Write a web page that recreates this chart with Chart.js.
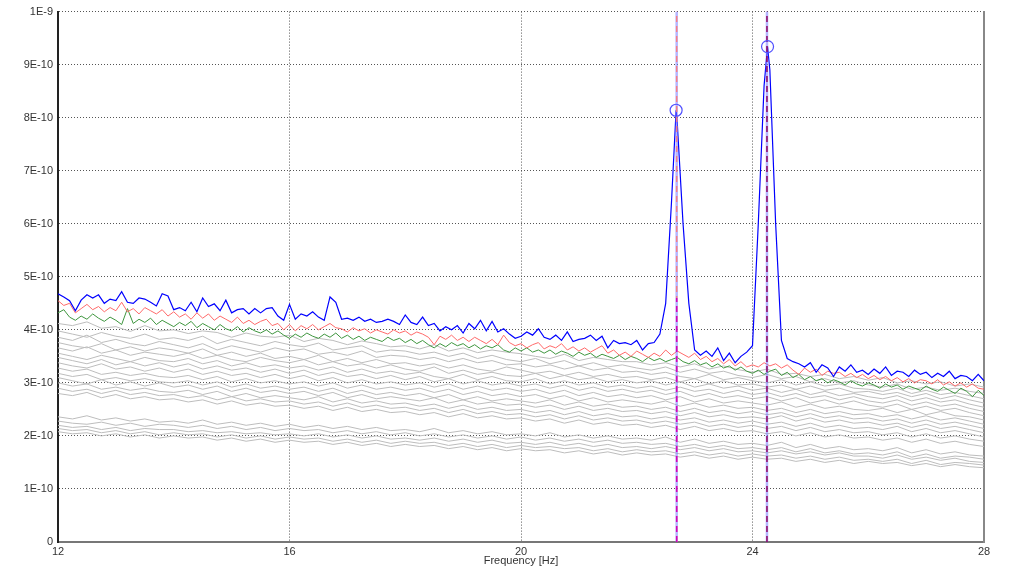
<!DOCTYPE html>
<html>
<head>
<meta charset="utf-8">
<script src="https://cdn.jsdelivr.net/npm/chart.js@4/dist/chart.umd.min.js"></script>
<style>
  html, body { margin: 0; padding: 0; background: #fff; }
  #wrap { width: 1024px; height: 568px; }
</style>
</head>
<body>
<div id="wrap"><canvas id="spectrum"></canvas></div>
<script>
'use strict';

// values are in units of 1E-10
var freqStart = 12;
var lineStep = 0.1;   // blue / red / green spectra
var grayStep = 0.25;  // background spectra

var xTickValues = [12, 16, 20, 24, 28];
var yTickValues = [0, 1, 2, 3, 4, 5, 6, 7, 8, 9, 10];
var yTickLabels = ['0', '1E-10', '2E-10', '3E-10', '4E-10', '5E-10', '6E-10', '7E-10', '8E-10', '9E-10', '1E-9'];

var peakFreqs = [22.68, 24.26];
var peakValues = [8.14, 9.34];
var markerFreqs = [22.69, 24.25];

var blueValues = [
  4.68, 4.62, 4.55, 4.36, 4.56, 4.66, 4.60, 4.66, 4.50, 4.58,
  4.55, 4.72, 4.52, 4.50, 4.60, 4.58, 4.52, 4.45, 4.68, 4.64,
  4.38, 4.42, 4.36, 4.52, 4.34, 4.60, 4.44, 4.49, 4.36, 4.56,
  4.32, 4.38, 4.40, 4.30, 4.40, 4.32, 4.40, 4.42, 4.26, 4.18,
  4.48, 4.20, 4.30, 4.26, 4.34, 4.24, 4.18, 4.62, 4.52, 4.20,
  4.22, 4.18, 4.24, 4.16, 4.20, 4.14, 4.16, 4.20, 4.16, 4.10,
  4.28, 4.14, 4.10, 4.24, 4.08, 4.12, 3.98, 4.06, 4.00, 4.08,
  3.94, 4.12, 4.02, 4.18, 3.98, 4.16, 3.96, 4.02, 3.92, 3.84,
  3.88, 3.96, 3.90, 4.02, 3.86, 3.82, 3.90, 3.80, 3.96, 3.78,
  3.82, 3.84, 3.90, 3.80, 3.88, 3.66, 3.80, 3.74, 3.76, 3.72,
  3.80, 3.62, 3.74, 3.76, 3.92, 4.50, 6.40, 7.90, 6.00, 4.50,
  3.62, 3.52, 3.60, 3.50, 3.66, 3.42, 3.56, 3.38, 3.50, 3.58,
  3.70, 6.00, 8.60, 8.90, 6.00, 3.80, 3.46, 3.40, 3.36, 3.30,
  3.38, 3.20, 3.34, 3.28, 3.12, 3.30, 3.22, 3.34, 3.20, 3.24,
  3.16, 3.26, 3.18, 3.30, 3.14, 3.22, 3.20, 3.12, 3.24, 3.16,
  3.20, 3.10, 3.18, 3.12, 3.22, 3.08, 3.14, 3.12, 3.04, 3.16,
  3.04
];

var redValues = [
  4.55, 4.46, 4.50, 4.32, 4.40, 4.48, 4.38, 4.44, 4.34, 4.42,
  4.36, 4.52, 4.34, 4.40, 4.30, 4.42, 4.36, 4.30, 4.38, 4.26,
  4.34, 4.24, 4.30, 4.20, 4.32, 4.22, 4.30, 4.18, 4.26, 4.20,
  4.14, 4.24, 4.12, 4.18, 4.10, 4.16, 4.20, 4.08, 4.12, 4.00,
  4.10, 3.98, 4.08, 4.02, 4.10, 4.00, 4.06, 4.12, 4.04, 4.02,
  3.96, 4.04, 3.98, 4.02, 3.94, 4.00, 3.96, 3.92, 4.00, 3.94,
  3.98, 3.90, 3.96, 3.92, 3.86, 3.72, 3.88, 3.82, 3.90, 3.80,
  3.86, 3.78, 3.86, 3.80, 3.74, 3.82, 3.72, 3.90, 3.76, 3.70,
  3.74, 3.66, 3.72, 3.76, 3.64, 3.70, 3.66, 3.74, 3.62, 3.68,
  3.60, 3.66, 3.58, 3.64, 3.70, 3.56, 3.62, 3.52, 3.58, 3.50,
  3.60, 3.54, 3.48, 3.56, 3.50, 3.62, 3.52, 3.60, 3.54, 3.48,
  3.56, 3.44, 3.50, 3.40, 3.46, 3.36, 3.44, 3.32, 3.40, 3.30,
  3.34, 3.30, 3.38, 3.32, 3.36, 3.28, 3.34, 3.24, 3.16, 3.28,
  3.20, 3.26, 3.14, 3.22, 3.18, 3.20, 3.12, 3.18, 3.10, 3.16,
  3.08, 3.14, 3.06, 3.12, 3.04, 3.10, 3.02, 3.08, 3.00, 3.06,
  3.04, 2.98, 3.06, 2.96, 3.02, 2.94, 3.00, 2.92, 2.98, 2.90,
  2.88
];

var greenValues = [
  4.32, 4.38, 4.24, 4.18, 4.26, 4.20, 4.30, 4.22, 4.16, 4.24,
  4.18, 4.10, 4.40, 4.12, 4.20, 4.14, 4.22, 4.10, 4.18, 4.12,
  4.06, 4.14, 4.08, 4.16, 4.04, 4.12, 4.06, 4.00, 4.10, 4.02,
  3.98, 4.06, 3.96, 4.04, 3.98, 3.94, 4.00, 3.92, 3.98, 3.90,
  3.84, 3.92, 3.86, 3.94, 3.88, 3.84, 3.92, 3.86, 3.94, 3.84,
  3.90, 3.82, 3.88, 3.80, 3.86, 3.82, 3.78, 3.86, 3.80, 3.84,
  3.76, 3.82, 3.74, 3.80, 3.72, 3.66, 3.74, 3.68, 3.76, 3.70,
  3.74, 3.66, 3.72, 3.64, 3.70, 3.66, 3.72, 3.62, 3.58, 3.66,
  3.60, 3.66, 3.58, 3.62, 3.56, 3.62, 3.54, 3.60, 3.56, 3.50,
  3.58, 3.52, 3.56, 3.48, 3.54, 3.50, 3.46, 3.52, 3.44, 3.50,
  3.46, 3.40, 3.48, 3.42, 3.46, 3.40, 3.44, 3.48, 3.40, 3.36,
  3.42, 3.34, 3.38, 3.30, 3.36, 3.28, 3.32, 3.24, 3.30, 3.22,
  3.18, 3.24, 3.16, 3.22, 3.26, 3.14, 3.20, 3.10, 3.16, 3.06,
  3.12, 3.04, 3.08, 3.00, 3.06, 3.02, 2.96, 3.04, 2.98, 2.94,
  3.00, 2.96, 2.90, 2.98, 2.92, 2.96, 2.88, 2.94, 2.90, 2.86,
  2.94, 2.88, 2.84, 2.92, 2.86, 2.80, 2.90, 2.84, 2.74, 2.86,
  2.76
];

// background spectra, one row per 2 Hz (0.25 Hz apart)
var grayValues = [
  [4.12, 4.08, 4.15, 4.03, 4.06, 3.97, 4.08, 3.98,  4.00, 3.93, 3.98, 3.95, 3.86, 3.94, 3.88, 3.86,
   3.90, 3.78, 3.84, 3.80, 3.72, 3.79, 3.74, 3.68,  3.70, 3.64, 3.72, 3.60, 3.66, 3.57, 3.62, 3.58,
   3.55, 3.50, 3.46, 3.54, 3.42, 3.48, 3.44, 3.40,  3.40, 3.34, 3.38, 3.30, 3.36, 3.26, 3.32, 3.25,
   3.20, 3.26, 3.16, 3.18, 3.12, 3.16, 3.08, 3.12,  3.05, 3.10, 3.00, 3.04, 2.98, 3.02, 2.94, 2.98, 2.92],
  [3.98, 3.92, 3.86, 3.95, 3.88, 3.84, 3.92, 3.82,  3.85, 3.80, 3.88, 3.74, 3.82, 3.76, 3.70, 3.78,
   3.72, 3.68, 3.75, 3.62, 3.66, 3.70, 3.58, 3.62,  3.60, 3.54, 3.58, 3.50, 3.56, 3.46, 3.52, 3.44,
   3.40, 3.46, 3.36, 3.42, 3.32, 3.38, 3.30, 3.34,  3.28, 3.24, 3.30, 3.20, 3.26, 3.18, 3.22, 3.14,
   3.10, 3.16, 3.08, 3.12, 3.02, 3.08, 3.00, 3.04,  2.96, 2.92, 2.98, 2.88, 2.92, 2.86, 2.90, 2.84, 2.80],
  [3.86, 3.80, 3.90, 3.76, 3.82, 3.74, 3.70, 3.78,  3.72, 3.66, 3.74, 3.62, 3.70, 3.64, 3.58, 3.66,
   3.60, 3.64, 3.54, 3.58, 3.52, 3.60, 3.48, 3.52,  3.50, 3.44, 3.48, 3.40, 3.46, 3.38, 3.42, 3.34,
   3.36, 3.30, 3.34, 3.26, 3.32, 3.24, 3.28, 3.20,  3.22, 3.16, 3.20, 3.12, 3.08, 3.16, 3.06, 3.10,
   3.04, 3.00, 3.06, 2.96, 3.02, 2.94, 2.98, 2.90,  2.88, 2.84, 2.90, 2.80, 2.86, 2.78, 2.82, 2.76, 2.70],
  [3.76, 3.70, 3.66, 3.74, 3.62, 3.68, 3.60, 3.66,  3.62, 3.56, 3.64, 3.52, 3.58, 3.50, 3.56, 3.46,
   3.50, 3.44, 3.52, 3.40, 3.46, 3.38, 3.44, 3.36,  3.38, 3.32, 3.36, 3.28, 3.34, 3.26, 3.22, 3.30,
   3.24, 3.18, 3.22, 3.14, 3.20, 3.12, 3.16, 3.10,  3.12, 3.06, 3.10, 3.02, 3.08, 2.98, 3.04, 2.96,
   2.98, 2.92, 2.96, 2.88, 2.94, 2.86, 2.90, 2.82,  2.84, 2.78, 2.82, 2.74, 2.80, 2.70, 2.76, 2.68, 2.62],
  [3.66, 3.60, 3.68, 3.56, 3.62, 3.52, 3.58, 3.54,  3.50, 3.56, 3.46, 3.52, 3.44, 3.40, 3.48, 3.42,
   3.38, 3.44, 3.34, 3.40, 3.32, 3.36, 3.28, 3.34,  3.26, 3.22, 3.30, 3.18, 3.24, 3.16, 3.20, 3.14,
   3.12, 3.18, 3.08, 3.14, 3.06, 3.10, 3.02, 3.06,  3.00, 3.04, 2.96, 3.02, 2.92, 2.98, 2.90, 2.94,
   2.86, 2.90, 2.82, 2.88, 2.78, 2.84, 2.76, 2.80,  2.74, 2.70, 2.76, 2.66, 2.72, 2.64, 2.68, 2.60, 2.54],
  [3.56, 3.50, 3.44, 3.52, 3.46, 3.40, 3.48, 3.42,  3.40, 3.46, 3.36, 3.42, 3.32, 3.38, 3.30, 3.34,
   3.28, 3.32, 3.24, 3.30, 3.20, 3.26, 3.18, 3.22,  3.16, 3.20, 3.12, 3.08, 3.16, 3.06, 3.12, 3.04,
   3.02, 3.08, 2.98, 3.04, 2.96, 3.00, 2.92, 2.96,  2.90, 2.94, 2.86, 2.92, 2.84, 2.88, 2.80, 2.86,
   2.78, 2.82, 2.74, 2.80, 2.72, 2.76, 2.68, 2.74,  2.66, 2.62, 2.68, 2.58, 2.64, 2.56, 2.60, 2.52, 2.46],
  [3.48, 3.42, 3.36, 3.44, 3.34, 3.40, 3.32, 3.38,  3.30, 3.36, 3.26, 3.32, 3.24, 3.28, 3.20, 3.26,
   3.18, 3.24, 3.14, 3.20, 3.12, 3.16, 3.08, 3.14,  3.06, 3.12, 3.02, 3.08, 2.98, 3.04, 2.96, 3.00,
   2.94, 2.98, 2.90, 2.96, 2.86, 2.92, 2.84, 2.88,  2.82, 2.86, 2.78, 2.84, 2.74, 2.80, 2.72, 2.76,
   2.70, 2.74, 2.66, 2.72, 2.62, 2.68, 2.60, 2.66,  2.58, 2.54, 2.60, 2.50, 2.56, 2.48, 2.52, 2.44, 2.38],
  [3.38, 3.32, 3.28, 3.36, 3.26, 3.30, 3.22, 3.28,  3.20, 3.26, 3.16, 3.22, 3.14, 3.18, 3.10, 3.16,
   3.08, 3.14, 3.04, 3.10, 3.00, 3.06, 2.98, 3.02,  2.96, 3.00, 2.92, 2.98, 2.88, 2.94, 2.86, 2.90,
   2.84, 2.88, 2.80, 2.86, 2.76, 2.82, 2.74, 2.78,  2.72, 2.76, 2.68, 2.74, 2.64, 2.70, 2.62, 2.66,
   2.62, 2.58, 2.64, 2.54, 2.60, 2.52, 2.56, 2.50,  2.48, 2.52, 2.44, 2.50, 2.40, 2.46, 2.38, 2.36, 2.30],
  [3.28, 3.22, 3.26, 3.16, 3.20, 3.14, 3.18, 3.12,  3.10, 3.14, 3.06, 3.12, 3.02, 3.08, 3.00, 3.04,
   2.98, 3.02, 2.94, 3.00, 2.90, 2.96, 2.88, 2.92,  2.86, 2.90, 2.82, 2.88, 2.78, 2.84, 2.76, 2.80,
   2.74, 2.78, 2.70, 2.76, 2.66, 2.72, 2.64, 2.68,  2.64, 2.60, 2.66, 2.56, 2.62, 2.54, 2.58, 2.52,
   2.54, 2.48, 2.52, 2.44, 2.50, 2.42, 2.46, 2.40,  2.42, 2.36, 2.40, 2.32, 2.38, 2.30, 2.34, 2.28, 2.22],
  [3.18, 3.12, 3.16, 3.06, 3.10, 3.04, 3.08, 3.02,  3.00, 3.04, 2.96, 3.02, 2.92, 2.98, 2.90, 2.94,
   2.88, 2.92, 2.84, 2.90, 2.80, 2.86, 2.78, 2.82,  2.76, 2.80, 2.72, 2.78, 2.68, 2.74, 2.66, 2.70,
   2.66, 2.62, 2.68, 2.58, 2.64, 2.56, 2.60, 2.54,  2.56, 2.50, 2.54, 2.46, 2.52, 2.44, 2.48, 2.42,
   2.46, 2.40, 2.44, 2.36, 2.42, 2.34, 2.38, 2.32,  2.34, 2.28, 2.32, 2.24, 2.30, 2.22, 2.26, 2.20, 2.14],
  [3.10, 3.04, 2.98, 3.06, 2.96, 3.02, 2.94, 3.00,  2.92, 2.96, 2.88, 2.94, 2.84, 2.90, 2.82, 2.86,
   2.80, 2.84, 2.76, 2.82, 2.72, 2.78, 2.70, 2.74,  2.70, 2.66, 2.72, 2.62, 2.68, 2.60, 2.64, 2.58,
   2.60, 2.54, 2.58, 2.50, 2.56, 2.48, 2.52, 2.46,  2.48, 2.42, 2.46, 2.38, 2.44, 2.36, 2.40, 2.34,
   2.36, 2.32, 2.38, 2.28, 2.34, 2.26, 2.30, 2.24,  2.26, 2.20, 2.24, 2.16, 2.22, 2.14, 2.18, 2.12, 2.06],
  [3.00, 2.94, 2.98, 2.88, 2.92, 2.86, 2.90, 2.84,  2.82, 2.86, 2.78, 2.84, 2.74, 2.80, 2.72, 2.76,
   2.72, 2.68, 2.74, 2.64, 2.70, 2.62, 2.66, 2.60,  2.62, 2.56, 2.60, 2.52, 2.58, 2.50, 2.54, 2.48,
   2.50, 2.44, 2.48, 2.40, 2.46, 2.38, 2.42, 2.36,  2.38, 2.32, 2.36, 2.30, 2.34, 2.26, 2.30, 2.24,
   2.28, 2.22, 2.26, 2.18, 2.24, 2.16, 2.20, 2.14,  2.16, 2.12, 2.18, 2.08, 2.14, 2.06, 2.10, 2.04, 1.98],
  [2.90, 2.84, 2.88, 2.80, 2.86, 2.78, 2.82, 2.76,  2.78, 2.72, 2.76, 2.68, 2.74, 2.66, 2.70, 2.64,
   2.66, 2.60, 2.64, 2.56, 2.62, 2.54, 2.58, 2.52,  2.54, 2.48, 2.52, 2.44, 2.50, 2.42, 2.46, 2.40,
   2.42, 2.36, 2.40, 2.32, 2.38, 2.30, 2.34, 2.28,  2.30, 2.24, 2.28, 2.22, 2.26, 2.18, 2.22, 2.16,
   2.20, 2.14, 2.18, 2.10, 2.16, 2.08, 2.12, 2.06,  2.08, 2.02, 2.06, 1.98, 2.04, 1.96, 2.00, 1.94, 1.90],
  [2.80, 2.76, 2.82, 2.72, 2.78, 2.70, 2.74, 2.68,  2.70, 2.64, 2.68, 2.60, 2.66, 2.58, 2.62, 2.56,
   2.58, 2.52, 2.56, 2.48, 2.54, 2.46, 2.50, 2.44,  2.46, 2.40, 2.44, 2.36, 2.42, 2.34, 2.38, 2.32,
   2.34, 2.28, 2.32, 2.24, 2.30, 2.22, 2.26, 2.20,  2.22, 2.16, 2.20, 2.12, 2.18, 2.10, 2.14, 2.08,
   2.10, 2.04, 2.08, 2.00, 2.06, 1.98, 2.02, 1.96,  1.98, 1.92, 1.96, 1.88, 1.94, 1.86, 1.90, 1.84, 1.80],
  [2.36, 2.32, 2.38, 2.30, 2.34, 2.28, 2.32, 2.26,  2.28, 2.24, 2.30, 2.22, 2.26, 2.20, 2.24, 2.18,
   2.22, 2.16, 2.20, 2.14, 2.18, 2.12, 2.16, 2.10,  2.12, 2.08, 2.14, 2.06, 2.10, 2.04, 2.08, 2.02,
   2.04, 2.00, 2.06, 1.98, 2.02, 1.96, 2.00, 1.94,  1.96, 1.92, 1.98, 1.88, 1.94, 1.86, 1.90, 1.84,
   1.86, 1.82, 1.88, 1.78, 1.84, 1.76, 1.80, 1.74,  1.76, 1.72, 1.78, 1.68, 1.74, 1.66, 1.70, 1.64, 1.62],
  [2.28, 2.24, 2.22, 2.26, 2.20, 2.24, 2.18, 2.22,  2.20, 2.16, 2.20, 2.14, 2.18, 2.12, 2.16, 2.10,
   2.14, 2.10, 2.12, 2.06, 2.10, 2.04, 2.08, 2.02,  2.06, 2.00, 2.04, 1.98, 2.02, 1.96, 2.00, 1.94,
   1.98, 1.92, 1.96, 1.90, 1.94, 1.88, 1.92, 1.86,  1.88, 1.84, 1.86, 1.80, 1.84, 1.78, 1.82, 1.76,
   1.78, 1.74, 1.78, 1.70, 1.76, 1.68, 1.72, 1.66,  1.68, 1.64, 1.70, 1.60, 1.66, 1.58, 1.62, 1.60, 1.56],
  [2.20, 2.16, 2.18, 2.12, 2.16, 2.10, 2.14, 2.12,  2.12, 2.08, 2.10, 2.06, 2.08, 2.04, 2.06, 2.02,
   2.04, 2.00, 2.04, 1.98, 2.02, 1.96, 2.00, 1.94,  1.96, 1.92, 1.96, 1.90, 1.94, 1.88, 1.92, 1.86,
   1.88, 1.84, 1.88, 1.82, 1.86, 1.80, 1.84, 1.78,  1.80, 1.76, 1.80, 1.74, 1.78, 1.72, 1.76, 1.70,
   1.72, 1.68, 1.72, 1.66, 1.70, 1.64, 1.68, 1.62,  1.62, 1.58, 1.64, 1.56, 1.60, 1.54, 1.58, 1.52, 1.50],
  [2.14, 2.10, 2.12, 2.06, 2.10, 2.04, 2.08, 2.02,  2.06, 2.02, 2.04, 1.98, 2.02, 1.96, 2.00, 1.94,
   1.98, 1.94, 1.96, 1.90, 1.94, 1.88, 1.92, 1.86,  1.90, 1.86, 1.88, 1.82, 1.86, 1.80, 1.84, 1.78,
   1.82, 1.78, 1.80, 1.76, 1.78, 1.72, 1.76, 1.70,  1.74, 1.70, 1.72, 1.66, 1.70, 1.64, 1.68, 1.62,
   1.66, 1.62, 1.64, 1.58, 1.62, 1.56, 1.60, 1.54,  1.56, 1.52, 1.56, 1.48, 1.54, 1.46, 1.50, 1.48, 1.45],
  [2.08, 2.04, 2.06, 2.00, 2.04, 1.98, 2.02, 1.96,  2.00, 1.96, 1.98, 1.92, 1.96, 1.90, 1.94, 1.88,
   1.92, 1.88, 1.90, 1.84, 1.88, 1.82, 1.86, 1.80,  1.84, 1.80, 1.82, 1.76, 1.80, 1.74, 1.78, 1.72,
   1.76, 1.72, 1.74, 1.68, 1.72, 1.66, 1.70, 1.64,  1.68, 1.64, 1.66, 1.60, 1.64, 1.58, 1.62, 1.56,
   1.60, 1.56, 1.58, 1.52, 1.56, 1.50, 1.54, 1.48,  1.52, 1.48, 1.50, 1.44, 1.48, 1.42, 1.46, 1.42, 1.40]
];

function toPoints(values, step) {
  return values.map(function (v, i) {
    return { x: Math.round((freqStart + i * step) * 100) / 100, y: v };
  });
}

// blue spectrum runs through the picked peaks
var bluePoints = toPoints(blueValues, lineStep);
for (var p = 0; p < peakFreqs.length; p++) {
  bluePoints.push({ x: peakFreqs[p], y: peakValues[p] });
}
bluePoints.sort(function (a, b) { return a.x - b.x; });

function lineSet(points, color, width) {
  return {
    type: 'line',
    data: points,
    borderColor: color,
    borderWidth: width,
    pointRadius: 0,
    tension: 0,
    fill: false
  };
}

function markerSet(freq, top, color, width, dash) {
  var ds = lineSet([{ x: freq, y: 0 }, { x: freq, y: top }], color, width);
  ds.borderDash = dash;
  return ds;
}

var datasets = [];
// peak circles
datasets.push({
  type: 'scatter',
  data: peakFreqs.map(function (f, i) { return { x: f, y: peakValues[i] }; }),
  pointRadius: 6,
  pointStyle: 'circle',
  pointBorderColor: '#5050ff',
  pointBackgroundColor: 'rgba(0,0,0,0)',
  pointBorderWidth: 1.2
});
// peak marker lines
datasets.push(markerSet(markerFreqs[0], 4.6, '#d000c0', 1.5, [6, 4]));
datasets.push(markerSet(markerFreqs[0], 10, 'rgba(255,120,120,0.9)', 1.5, [6, 4]));
datasets.push(markerSet(markerFreqs[1], 10, '#900060', 1.5, [6, 4]));
datasets.push(markerSet(markerFreqs[0], 10, 'rgba(120,120,255,0.55)', 2.5, []));
datasets.push(markerSet(markerFreqs[1], 10, 'rgba(120,120,255,0.55)', 2.5, []));

datasets.push(lineSet(bluePoints, '#0000ff', 1.2));
datasets.push(lineSet(toPoints(redValues, lineStep), '#ff6a6a', 1));
datasets.push(lineSet(toPoints(greenValues, lineStep), '#3f963f', 1));
for (var g = 0; g < grayValues.length; g++) {
  datasets.push(lineSet(toPoints(grayValues[g], grayStep), '#bdbdbd', 1));
}

var tickFont = { family: '"Liberation Sans", Arial, sans-serif', size: 11 };

var ctx = document.getElementById('spectrum').getContext('2d');
var spectrumChart = new Chart(ctx, {
  data: { datasets: datasets },
  options: {
    responsive: true,
    maintainAspectRatio: false,
    animation: false,
    layout: { padding: { top: 10, right: 40, left: 0, bottom: 0 } },
    plugins: {
      legend: { display: false },
      tooltip: { enabled: false }
    },
    scales: {
      x: {
        type: 'linear',
        min: 12,
        max: 28,
        afterBuildTicks: function (scale) {
          scale.ticks = xTickValues.map(function (v) { return { value: v }; });
        },
        afterFit: function (scale) { scale.height = 26; },
        ticks: { font: tickFont, color: '#333', padding: 3, maxRotation: 0 },
        grid: { color: '#555', drawTicks: false },
        border: { color: '#777', width: 2, dash: [1, 2] },
        title: { display: true, text: 'Frequency [Hz]', font: tickFont, color: '#333', padding: 0 }
      },
      y: {
        min: 0,
        max: 10,
        afterBuildTicks: function (scale) {
          scale.ticks = yTickValues.map(function (v) { return { value: v }; });
        },
        afterFit: function (scale) { scale.width = 58; },
        ticks: {
          font: tickFont,
          color: '#333',
          padding: 5,
          callback: function (value, index) { return yTickLabels[index]; }
        },
        grid: { color: '#555', drawTicks: false },
        border: { color: '#222', width: 2, dash: [1, 2] }
      },
      yRight: {
        position: 'right',
        min: 0,
        max: 10,
        afterFit: function (scale) { scale.width = 0; },
        ticks: { display: false },
        grid: { drawOnChartArea: false, drawTicks: false },
        border: { color: '#888', width: 2 }
      }
    }
  }
});
</script>
</body>
</html>
